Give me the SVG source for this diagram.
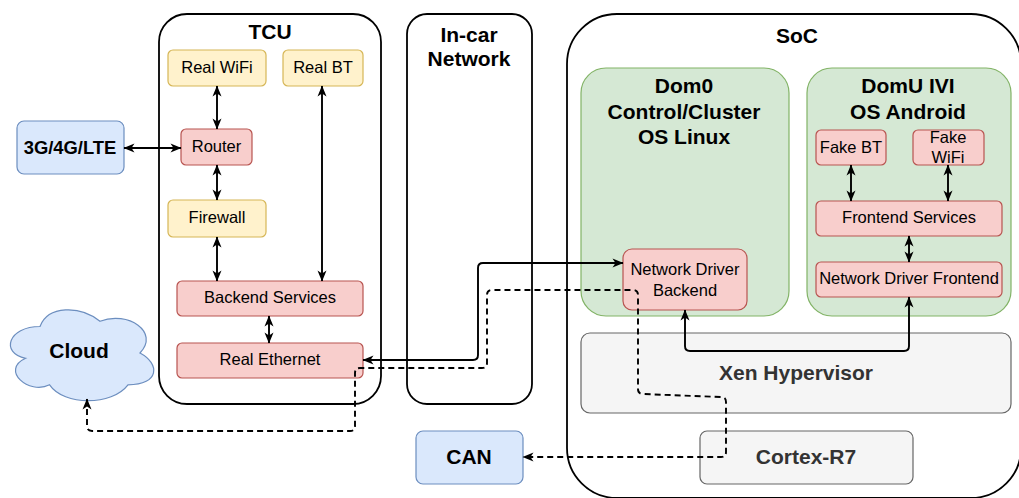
<svg xmlns="http://www.w3.org/2000/svg" width="1019" height="498" viewBox="0 0 1019 498">
<style>
text{font-family:"Liberation Sans",Arial,sans-serif;text-anchor:middle;fill:#000}
.t{font-size:16.5px}
.b{font-size:21px;font-weight:bold}
.g{fill:#333}
.cont{fill:#fff;stroke:#000;stroke-width:1.8}
.y{fill:#fff2cc;stroke:#d6b656;stroke-width:1.2}
.r{fill:#f8cecc;stroke:#b85450;stroke-width:1.2}
.bl{fill:#dae8fc;stroke:#6c8ebf;stroke-width:1.2}
.gr{fill:#d5e8d4;stroke:#82b366;stroke-width:1.2}
.gy{fill:#f5f5f5;stroke:#666;stroke-width:1.2}
.e{fill:none;stroke:#000;stroke-width:1.9;marker-start:url(#a);marker-end:url(#a)}
.d{stroke-dasharray:6 4}
</style>
<defs>
<marker id="a" viewBox="0 0 12 10" markerWidth="12" markerHeight="10" refX="11" refY="5" orient="auto-start-reverse" markerUnits="userSpaceOnUse">
<path d="M0.5,0.5 L11.5,5 L0.5,9.5 L3.5,5 Z" fill="#000"/>
</marker>
</defs>
<rect width="1019" height="498" fill="#fff"/>

<g id="tcu"><rect class="cont" x="159" y="14" width="222" height="390" rx="28"/><text class="b" x="270" y="39">TCU</text></g>
<g id="incar"><rect class="cont" x="407" y="14" width="125" height="390" rx="20"/><text class="b" x="469" y="42">In-car</text><text class="b" x="469" y="66">Network</text></g>
<g id="soc"><rect class="cont" x="567" y="14" width="454" height="484" rx="50"/><text class="b" x="797" y="43">SoC</text></g>

<g id="dom0"><rect class="gr" x="581" y="68" width="208" height="248" rx="25"/><text class="b" x="684" y="93">Dom0</text><text class="b" x="684" y="119">Control/Cluster</text><text class="b" x="684" y="144">OS Linux</text></g>
<g id="domu"><rect class="gr" x="807" y="68" width="204" height="248" rx="25"/><text class="b" x="908" y="93">DomU IVI</text><text class="b" x="908" y="119">OS Android</text></g>

<g id="realwifi"><rect class="y" x="168" y="50" width="98" height="36" rx="5"/><text class="t" x="217" y="73">Real WiFi</text></g>
<g id="realbt"><rect class="y" x="283" y="50" width="80" height="36" rx="5"/><text class="t" x="323" y="73">Real BT</text></g>
<g id="router"><rect class="r" x="181" y="129" width="71" height="36" rx="5"/><text class="t" x="216.5" y="152">Router</text></g>
<g id="lte"><rect class="bl" x="17" y="121" width="107" height="53" rx="7"/><text x="70" y="154" style="font-size:18.4px;font-weight:bold">3G/4G/LTE</text></g>
<g id="firewall"><rect class="y" x="168" y="200" width="98" height="37" rx="5"/><text class="t" x="217" y="223">Firewall</text></g>
<g id="backend"><rect class="r" x="177" y="281" width="186" height="35" rx="5"/><text class="t" x="270" y="303">Backend Services</text></g>
<g id="ethernet"><rect class="r" x="177" y="343" width="186" height="35" rx="5"/><text class="t" x="270" y="365">Real Ethernet</text></g>
<g id="cloud"><path class="bl" d="M40,326.5 C8,326.5 0,353 25.6,358.3 C0,369.96 28.8,395.4 49.6,384.8 C64,406 112,406 128,384.8 C160,384.8 160,363.6 140,353 C160,331.8 128,310.6 100,321.2 C80,305.3 48,305.3 40,326.5 Z"/><text class="b" x="79" y="358">Cloud</text></g>
<g id="can"><rect class="bl" x="416" y="431" width="107" height="53" rx="7"/><text class="b" x="469" y="464">CAN</text></g>

<g id="fakebt"><rect class="r" x="816" y="130" width="70" height="35" rx="5"/><text class="t" x="851" y="153">Fake BT</text></g>
<g id="fakewifi"><rect class="r" x="913" y="130" width="71" height="35" rx="5"/><text class="t" x="948" y="143">Fake</text><text class="t" x="948" y="163">WiFi</text></g>
<g id="frontend"><rect class="r" x="816" y="201" width="186" height="35" rx="5"/><text class="t" x="909" y="223">Frontend Services</text></g>
<g id="ndf"><rect class="r" x="816" y="262" width="186" height="35" rx="5"/><text class="t" x="909" y="284">Network Driver Frontend</text></g>
<g id="ndb"><rect class="r" x="623" y="249" width="124" height="61" rx="9"/><text class="t" x="685" y="275">Network Driver</text><text class="t" x="685" y="296">Backend</text></g>

<g id="xen"><rect class="gy" x="581" y="333" width="430" height="80" rx="9"/><text class="b g" x="796" y="380">Xen Hypervisor</text></g>
<g id="cortex"><rect class="gy" x="700" y="431" width="213" height="53" rx="7"/><text class="b g" x="806" y="464">Cortex-R7</text></g>

<g id="connectors">
<path class="e" d="M217,86 L217,129"/>
<path class="e" d="M124,148 L181,148"/>
<path class="e" d="M217,165 L217,200"/>
<path class="e" d="M217,237 L217,281"/>
<path class="e" d="M322,86 L322,281"/>
<path class="e" d="M269,316 L269,343"/>
<path class="e" d="M363,360 L473,360 Q478,360 478,355 L478,268 Q478,263 483,263 L623,263"/>
<path class="e" d="M685,310 L685,346 Q685,351 690,351 L904,351 Q909,351 909,346 L909,297"/>
<path class="e" d="M851,165 L851,201"/>
<path class="e" d="M948,165 L948,201"/>
<path class="e" d="M909,236 L909,262"/>
<path class="e d" d="M87,399 L87,426 Q87,431 92,431 L350,431 Q355,431 355,426 L355,373 Q355,368 360,368 L482,368 Q487,368 487,363 L487,295 Q487,290 492,290 L633,290 Q638,290 638,295 L638,389 Q638,394 643,394 L721,397 Q726,397 726,402 L726,452 Q726,457 721,457 L523,457"/>
</g>
</svg>
